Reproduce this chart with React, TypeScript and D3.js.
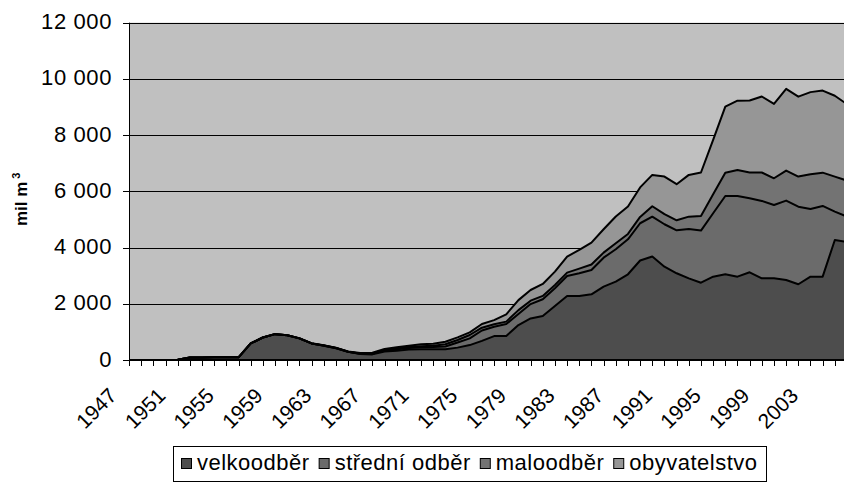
import React, { useEffect, useRef } from 'react'
import * as d3 from 'd3'

const years = [
  1947, 1948, 1949, 1950, 1951, 1952, 1953, 1954, 1955, 1956,
  1957, 1958, 1959, 1960, 1961, 1962, 1963, 1964, 1965, 1966,
  1967, 1968, 1969, 1970, 1971, 1972, 1973, 1974, 1975, 1976,
  1977, 1978, 1979, 1980, 1981, 1982, 1983, 1984, 1985, 1986,
  1987, 1988, 1989, 1990, 1991, 1992, 1993, 1994, 1995, 1996,
  1997, 1998, 1999, 2000, 2001, 2002, 2003, 2004, 2005, 2006,
]

// mil m3 per category
const velkoodber = [
  0, 0, 0, 0, 10, 90, 90, 95, 95, 95,
  590, 800, 920, 880, 770, 590, 510, 420, 290, 210,
  200, 300, 330, 370, 380, 380, 380, 440, 530, 680,
  850, 855, 1245, 1480, 1565, 1920, 2280, 2280, 2335, 2610,
  2790, 3050, 3540, 3680, 3320, 3085, 2905, 2750, 2965, 3050,
  2965, 3120, 2905, 2905, 2845, 2695, 2965, 2965, 4270, 4200,
]
const stredniOdber = [
  0, 0, 0, 0, 0, 0, 0, 0, 0, 0,
  0, 0, 0, 0, 0, 0, 5, 5, 5, 15,
  20, 40, 50, 60, 70, 80, 100, 180, 240, 370,
  335, 425, 390, 510, 595, 630, 710, 805, 865, 1030,
  1150, 1245, 1325, 1420, 1510, 1530, 1755, 1855, 2255, 2785,
  2870, 2635, 2755, 2610, 2825, 2760, 2410, 2515, 1010, 900,
]
const maloodber = [
  0, 0, 0, 0, 0, 0, 0, 0, 0, 0,
  0, 0, 0, 0, 0, 0, 0, 5, 0, 10,
  15, 20, 30, 30, 40, 50, 80, 90, 120, 100,
  85, 85, 140, 120, 120, 120, 120, 165, 200, 180,
  215, 190, 225, 370, 360, 355, 440, 520, 675, 830,
  925, 915, 1010, 950, 1070, 1070, 1235, 1185, 1245, 1280,
]
const obyvatelstvo = [
  0, 0, 0, 0, 0, 0, 0, 0, 0, 0,
  0, 0, 5, 5, 5, 5, 10, 10, 5, 15,
  25, 30, 40, 50, 70, 70, 90, 95, 95, 130,
  150, 260, 355, 380, 425, 475, 570, 665, 775, 830,
  950, 975, 1050, 1115, 1335, 1285, 1485, 1545, 1935, 2350,
  2465, 2560, 2705, 2645, 2905, 2845, 2920, 2920, 2875, 2720,
]

const seriesNames = ['velkoodběr', 'střední odběr', 'maloodběr', 'obyvatelstvo']
const seriesColors = ['#4d4d4d', '#6b6b6b', '#737373', '#969696']
const yTicks = [0, 2000, 4000, 6000, 8000, 10000, 12000]
const yearLabels = [1947, 1951, 1955, 1959, 1963, 1967, 1971, 1975, 1979, 1983, 1987, 1991, 1995, 1999, 2003]

const FONT = '"Liberation Sans", Arial, sans-serif'

function drawChart(svgEl: SVGSVGElement) {
  const svg = d3.select(svgEl)
  svg.selectAll('*').remove()

  const left = 129, right = 847, top = 22.7, bottom = 360

  const table = years.map((yr, i) => ({
    year: yr,
    [seriesNames[0]]: velkoodber[i],
    [seriesNames[1]]: stredniOdber[i],
    [seriesNames[2]]: maloodber[i],
    [seriesNames[3]]: obyvatelstvo[i],
  }))
  const stacked = d3.stack<any>().keys(seriesNames)(table)

  const x = d3.scalePoint<number>().domain(years).range([left, right])
  const y = d3.scaleLinear().domain([0, 12000]).range([bottom, top])
  const fmt = d3.formatLocale({ decimal: ',', thousands: '\u00a0', grouping: [3], currency: ['', ''] }).format(',d')

  // plot background
  svg.append('rect')
    .attr('x', left).attr('y', y(12000))
    .attr('width', right - left).attr('height', y(0) - y(12000))
    .attr('fill', '#c0c0c0')

  svg.append('g').selectAll('line').data(yTicks.slice(1)).join('line')
    .attr('x1', left).attr('x2', right)
    .attr('y1', d => Math.round(y(d)) + 0.5).attr('y2', d => Math.round(y(d)) + 0.5)
    .attr('stroke', '#000').attr('stroke-width', 1)

  const area = d3.area<any>()
    .x(d => x(d.data.year)!)
    .y0(d => y(d[0]))
    .y1(d => y(d[1]))
  const topLine = d3.line<any>()
    .x(d => x(d.data.year)!)
    .y(d => y(d[1]))

  svg.append('g').selectAll('path').data(stacked).join('path')
    .attr('d', d => area(d))
    .attr('fill', (d, i) => seriesColors[i])
  svg.append('g').selectAll('path').data(stacked).join('path')
    .attr('d', d => topLine(d))
    .attr('fill', 'none')
    .attr('stroke', '#000')
    .attr('stroke-width', 2)
    .attr('stroke-linejoin', 'round')

  // y axis
  svg.append('line')
    .attr('x1', left + 0.5).attr('x2', left + 0.5)
    .attr('y1', y(12000)).attr('y2', y(0))
    .attr('stroke', '#000')
  svg.append('g').selectAll('line').data(yTicks).join('line')
    .attr('x1', left - 6).attr('x2', left)
    .attr('y1', d => Math.round(y(d)) + 0.5).attr('y2', d => Math.round(y(d)) + 0.5)
    .attr('stroke', '#000')
  svg.append('g').selectAll('text').data(yTicks).join('text')
    .attr('x', 112).attr('y', d => y(d) + 6.5)
    .attr('text-anchor', 'end')
    .attr('font-family', FONT).attr('font-size', 22)
    .attr('letter-spacing', 0.6)
    .text(d => fmt(d))

  // x axis
  svg.append('line')
    .attr('x1', left).attr('x2', right)
    .attr('y1', bottom).attr('y2', bottom)
    .attr('stroke', '#000').attr('stroke-width', 2)
  svg.append('g').selectAll('line').data(years).join('line')
    .attr('x1', d => Math.round(x(d)!) + 0.5).attr('x2', d => Math.round(x(d)!) + 0.5)
    .attr('y1', bottom).attr('y2', bottom + 6)
    .attr('stroke', '#000')
  svg.append('g').selectAll('text').data(yearLabels).join('text')
    .attr('transform', d => `translate(${x(d)! - 11},${bottom + 37}) rotate(-45)`)
    .attr('text-anchor', 'end')
    .attr('font-family', FONT).attr('font-size', 21)
    .text(d => d)

  // axis title
  const title = svg.append('text')
    .attr('transform', `translate(27,${(y(0) + y(12000)) / 2 + 8}) rotate(-90)`)
    .attr('text-anchor', 'middle')
    .attr('font-family', FONT).attr('font-size', 17).attr('font-weight', 'bold')
  title.append('tspan').text('mil m')
  title.append('tspan').attr('dx', 3).attr('dy', -7).attr('font-size', 11).text('3')

  // legend
  const legend = svg.append('g')
  const items = legend.selectAll('g').data(seriesNames).join('g')
  items.append('rect')
    .attr('x', 0.5).attr('y', 0.5)
    .attr('width', 10).attr('height', 10)
    .attr('fill', (d, i) => seriesColors[i])
    .attr('stroke', '#000')
  items.append('text')
    .attr('x', 16).attr('y', 12)
    .attr('font-family', FONT).attr('font-size', 22)
    .attr('letter-spacing', 0.5)
    .text(d => d)
  const offsets: number[] = []
  let cursor = 0
  items.each(function () {
    const g = d3.select(this)
    offsets.push(cursor)
    const w = (g.select('text').node() as SVGTextElement).getComputedTextLength()
    cursor += 16 + w + 9
  })
  const boxW = cursor - 9 + 16
  const boxX = Math.round(469 - boxW / 2)
  legend.insert('rect', ':first-child')
    .attr('x', boxX + 0.5).attr('y', 446.5)
    .attr('width', Math.round(boxW)).attr('height', 35)
    .attr('fill', '#fff').attr('stroke', '#000')
  items.attr('transform', (d, i) => `translate(${boxX + 8 + offsets[i]},458)`)
}

export default function App() {
  const ref = useRef<SVGSVGElement>(null)
  useEffect(() => {
    if (ref.current) drawChart(ref.current)
  })
  return (
    <svg ref={ref} width={844} height={485}
      style={{ position: 'absolute', left: 0, top: 0, background: '#fff' }} />
  )
}
